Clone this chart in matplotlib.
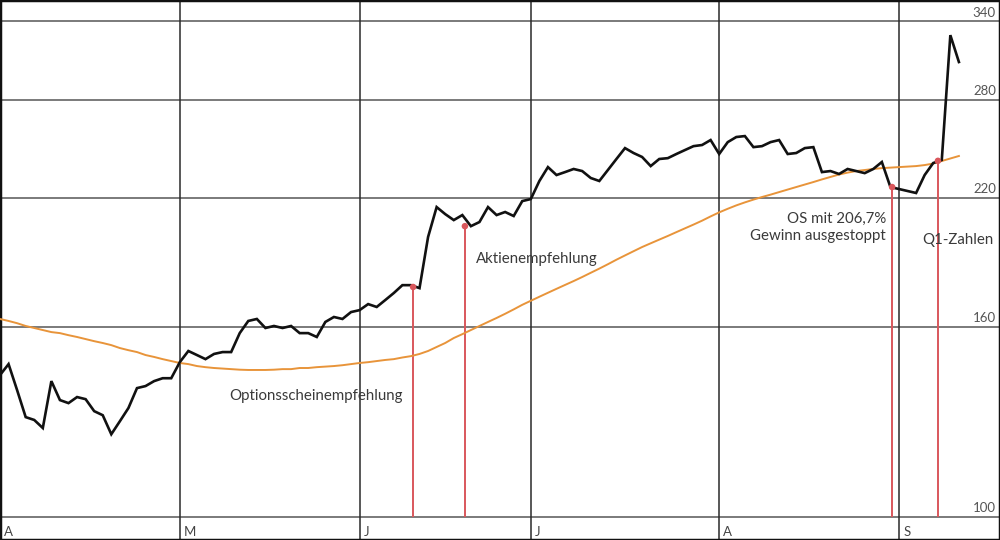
import numpy as np
import matplotlib.pyplot as plt

# --- DATA (trading-day index 0 = 1 April) ---
close = [142.0, 145.9, 136.8, 128.0, 127.1, 124.6, 139.9, 133.5, 132.5, 134.5,
         133.8, 129.9, 128.6, 122.7, 126.7, 130.9, 137.5, 138.2, 139.9, 140.9,
         140.9, 146.6, 150.7, 149.2, 147.7, 149.6, 150.3, 150.3, 157.5, 162.3,
         163.1, 159.5, 160.3, 159.5, 160.3, 157.5, 157.5, 156.0, 161.9, 163.9,
         163.1, 165.9, 166.7, 169.2, 168.0, 170.9, 173.9, 177.3, 177.3, 176.0,
         199.7, 215.0, 211.3, 208.2, 210.8, 205.1, 207.2, 215.0, 210.8, 212.4,
         210.3, 218.2, 219.3, 229.3, 237.3, 232.7, 234.4, 236.2, 235.0, 231.0,
         229.3, 235.6, 242.1, 248.7, 245.7, 243.3, 237.9, 242.1, 242.6, 245.1,
         247.5, 249.9, 250.6, 253.7, 245.1, 252.4, 255.6, 256.2, 249.3, 249.9,
         252.4, 253.7, 245.1, 245.7, 248.7, 249.3, 234.4, 235.0, 233.3, 236.2,
         235.0, 233.8, 236.2, 240.3, 225.9, 224.8, 223.7, 222.6, 232.7, 239.7,
         241.5, 328.7, 307.6]

moving_avg = [163.1, 162.3, 161.4, 160.3, 159.5, 158.7, 157.9, 157.5, 156.7, 156.0,
              155.2, 154.4, 153.7, 152.9, 151.8, 151.0, 150.3, 149.2, 148.5, 147.7,
              147.0, 146.3, 145.9, 145.2, 144.8, 144.5, 144.3, 144.1, 143.9, 143.8,
              143.8, 143.8, 143.9, 144.1, 144.1, 144.5, 144.5, 144.8, 145.0, 145.2,
              145.5, 145.9, 146.3, 146.6, 147.0, 147.4, 147.7, 148.3, 148.8, 149.6,
              150.7, 152.2, 153.7, 155.6, 157.1, 158.7, 160.3, 161.9, 163.5, 165.2,
              167.0, 168.9, 170.6, 172.3, 174.0, 175.7, 177.4, 179.1, 180.9, 182.8,
              184.7, 186.7, 188.8, 190.8, 192.8, 194.8, 196.6, 198.4, 200.2, 202.1,
              204.0, 205.9, 207.9, 210.1, 212.2, 214.1, 215.9, 217.5, 219.0, 220.4,
              221.7, 223.1, 224.5, 225.9, 227.3, 228.7, 230.2, 231.6, 233.0, 234.1,
              235.0, 235.6, 236.2, 236.7, 237.0, 237.3, 237.6, 237.9, 238.5, 239.4,
              240.9, 242.4, 243.9]

month_starts = [0, 21, 42, 62, 84, 105]
month_labels = ["A", "M", "J", "J", "A", "S"]
y_ticks = [100, 160, 220, 280, 340]

event_x = [48.25, 54.3, 104.2, 109.55]
event_price = [176.5, 205.1, 225.9, 241.0]

days = np.arange(len(close))

# --- STYLE ---
plt.rcParams['font.family'] = ['Lato', 'DejaVu Sans']
BLACK = "#111111"
ORANGE = "#e8943a"
RED = "#d9575c"
TEXT = "#3a3a3a"

fig = plt.figure(figsize=(10, 5.4), dpi=100)
ax = fig.add_axes([0, 0, 1, 1])
ax.set_yscale('log')
ax.set_xlim(0, 116.8)
ax.set_ylim(94.5, 358.5)

# grid
for v in y_ticks:
    ax.axhline(v, color="#7a7a7a", lw=1.4, zorder=1)
for m in month_starts[1:]:
    ax.axvline(m, color="#2a2a2a", lw=1.1, zorder=1)

# event markers
ax.vlines(event_x, 100, event_price, color=RED, lw=1.4, zorder=2)
ax.scatter(event_x, event_price, s=22, color=RED, zorder=5, edgecolors='none')

ax.plot(days, moving_avg, color=ORANGE, lw=1.4, zorder=3)
ax.plot(days, close, color=BLACK, lw=1.9, zorder=4, solid_joinstyle='miter')

# y labels on the right, above each gridline
for v in y_ticks:
    ax.annotate(str(v), (1, v), xycoords=('axes fraction', 'data'),
                xytext=(-3, 2), textcoords='offset points',
                ha='right', va='bottom', fontsize=9.5, color="#555555")

# month labels at the bottom
for m, lab in zip(month_starts, month_labels):
    ax.annotate(lab, (m, 0), xycoords=('data', 'axes fraction'),
                xytext=(3, 1.5), textcoords='offset points',
                ha='left', va='bottom', fontsize=9.5, color="#444444")

# annotation texts
txt = dict(fontsize=10.8, color=TEXT)
ax.text(47.0, 134.8, "Optionsscheinempfehlung", ha='right', va='center', **txt)
ax.text(55.6, 189.1, "Aktienempfehlung", ha='left', va='center', **txt)
ax.text(103.5, 204.4, "OS mit 206,7%\nGewinn ausgestoppt", ha='right', va='center',
        multialignment='right', linespacing=1.3, **txt)
ax.text(107.7, 198.2, "Q1-Zahlen", ha='left', va='center', **txt)

ax.set_xticks([])
ax.set_yticks([])
ax.minorticks_off()
for s in ax.spines.values():
    s.set_color(BLACK)
    s.set_linewidth(2.5)

fig.savefig("out.png", dpi=100)
